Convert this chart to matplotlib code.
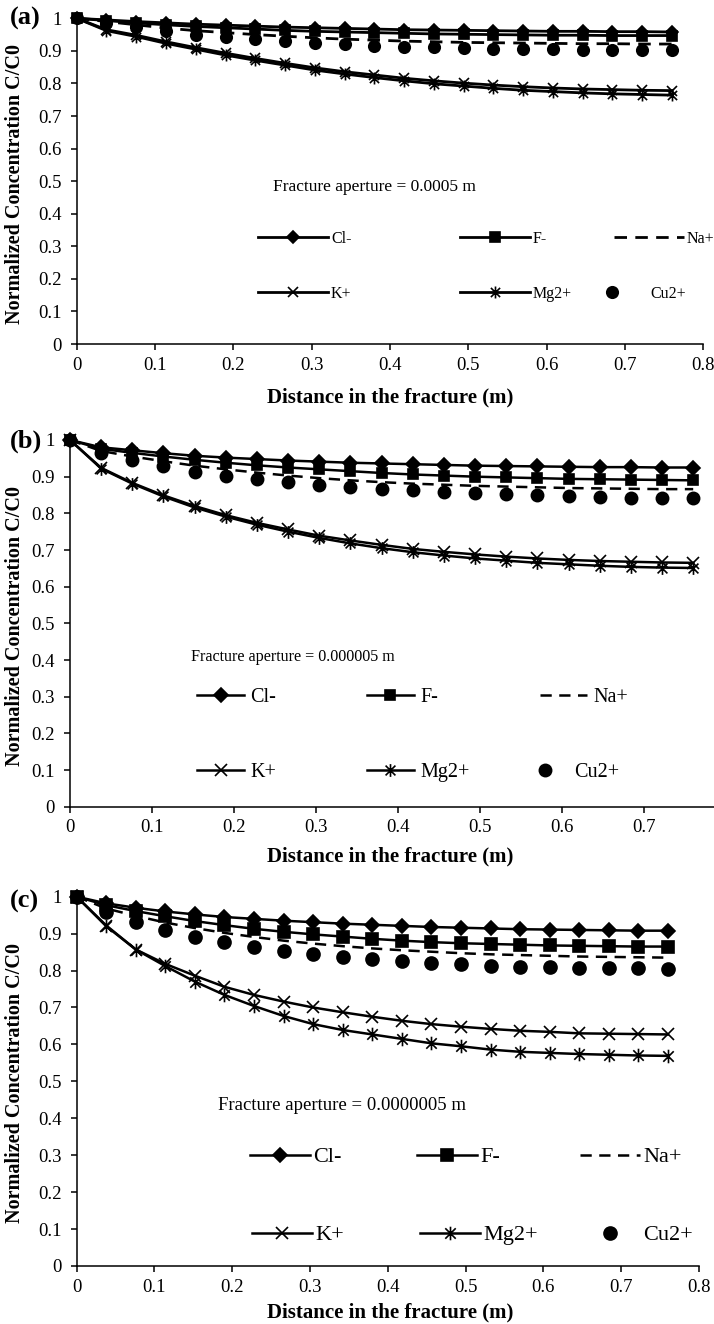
import matplotlib
matplotlib.use("Agg")
import matplotlib.pyplot as plt
from matplotlib.path import Path
from matplotlib.lines import Line2D
from matplotlib.legend import Legend
from matplotlib.ticker import MultipleLocator, FuncFormatter

plt.rcParams['font.family'] = ['Liberation Serif', 'DejaVu Serif']

W, H = 714, 1324

# distance along the fracture (m)
distance = [0, 0.038, 0.076, 0.114, 0.152, 0.19, 0.228, 0.266, 0.304, 0.342, 0.38,
            0.418, 0.456, 0.494, 0.532, 0.57, 0.608, 0.646, 0.684, 0.722, 0.76]

ions = ["Cl-", "F-", "Na+", "K+", "Mg2+", "Cu2+"]

# (a) aperture 0.0005 m
cl_a = [1, 0.995, 0.99, 0.986, 0.982, 0.979, 0.976, 0.973, 0.971, 0.969, 0.967,
        0.965, 0.964, 0.963, 0.962, 0.961, 0.96, 0.96, 0.959, 0.959, 0.958]
f_a = [1, 0.993, 0.986, 0.98, 0.975, 0.971, 0.967, 0.963, 0.96, 0.958, 0.956,
       0.954, 0.952, 0.951, 0.95, 0.949, 0.948, 0.948, 0.947, 0.947, 0.947]
na_a = [1, 0.99, 0.98, 0.97, 0.962, 0.956, 0.95, 0.945, 0.94, 0.936, 0.933,
        0.93, 0.928, 0.926, 0.925, 0.924, 0.923, 0.922, 0.922, 0.921, 0.921]
k_a = [1, 0.965, 0.948, 0.928, 0.91, 0.893, 0.877, 0.862, 0.848, 0.836, 0.826,
       0.816, 0.808, 0.801, 0.795, 0.79, 0.786, 0.783, 0.781, 0.779, 0.778]
mg_a = [1, 0.962, 0.944, 0.923, 0.905, 0.887, 0.871, 0.856, 0.841, 0.829, 0.818,
        0.808, 0.799, 0.792, 0.785, 0.779, 0.775, 0.771, 0.768, 0.766, 0.764]
cu_a = [1, 0.985, 0.972, 0.96, 0.95, 0.942, 0.935, 0.929, 0.924, 0.92, 0.916,
        0.913, 0.911, 0.909, 0.907, 0.906, 0.905, 0.904, 0.903, 0.903, 0.902]

# (b) aperture 0.000005 m
cl_b = [1, 0.98, 0.972, 0.964, 0.957, 0.952, 0.948, 0.944, 0.941, 0.938, 0.936,
        0.934, 0.932, 0.93, 0.929, 0.928, 0.927, 0.926, 0.926, 0.925, 0.925]
f_b = [1, 0.976, 0.965, 0.955, 0.946, 0.938, 0.931, 0.925, 0.92, 0.915, 0.91,
       0.906, 0.903, 0.9, 0.898, 0.896, 0.894, 0.893, 0.892, 0.891, 0.89]
na_b = [1, 0.97, 0.955, 0.942, 0.93, 0.92, 0.911, 0.903, 0.896, 0.89, 0.885,
        0.881, 0.878, 0.875, 0.873, 0.871, 0.869, 0.868, 0.867, 0.866, 0.866]
k_b = [1, 0.924, 0.883, 0.849, 0.82, 0.795, 0.774, 0.756, 0.739, 0.726, 0.714,
       0.703, 0.695, 0.688, 0.682, 0.677, 0.673, 0.67, 0.668, 0.666, 0.665]
mg_b = [1, 0.922, 0.881, 0.846, 0.816, 0.791, 0.769, 0.75, 0.733, 0.718, 0.705,
        0.694, 0.685, 0.677, 0.671, 0.665, 0.661, 0.657, 0.654, 0.652, 0.651]
cu_b = [1, 0.964, 0.945, 0.93, 0.914, 0.902, 0.893, 0.885, 0.877, 0.871, 0.867,
        0.863, 0.859, 0.855, 0.853, 0.85, 0.847, 0.845, 0.843, 0.842, 0.841]

# (c) aperture 0.0000005 m
cl_c = [1, 0.982, 0.97, 0.96, 0.952, 0.945, 0.94, 0.935, 0.931, 0.927, 0.924,
        0.921, 0.918, 0.916, 0.914, 0.912, 0.911, 0.91, 0.909, 0.908, 0.908]
f_c = [1, 0.977, 0.961, 0.947, 0.934, 0.923, 0.913, 0.905, 0.898, 0.892, 0.886,
       0.881, 0.877, 0.874, 0.872, 0.87, 0.868, 0.867, 0.866, 0.865, 0.865]
na_c = [1, 0.968, 0.948, 0.93, 0.915, 0.902, 0.891, 0.881, 0.873, 0.866, 0.86,
        0.855, 0.851, 0.847, 0.844, 0.842, 0.84, 0.838, 0.837, 0.836, 0.835]
k_c = [1, 0.922, 0.857, 0.818, 0.786, 0.756, 0.734, 0.716, 0.7, 0.687, 0.675,
       0.664, 0.655, 0.648, 0.642, 0.637, 0.634, 0.63, 0.629, 0.628, 0.627]
mg_c = [1, 0.92, 0.857, 0.812, 0.77, 0.734, 0.704, 0.677, 0.655, 0.639, 0.627,
        0.615, 0.603, 0.595, 0.586, 0.58, 0.577, 0.574, 0.572, 0.57, 0.569]
cu_c = [1, 0.959, 0.932, 0.91, 0.892, 0.876, 0.865, 0.854, 0.845, 0.838, 0.83,
        0.826, 0.821, 0.817, 0.813, 0.81, 0.809, 0.808, 0.807, 0.806, 0.805]

apertures = ["Fracture aperture = 0.0005 m", "Fracture aperture = 0.000005 m",
             "Fracture aperture = 0.0000005 m"]
letters = ["(a)", "(b)", "(c)"]

# excel style asterisk: an X with a vertical bar through it
asterisk = Path([(-1, -1), (1, 1), (-1, 1), (1, -1), (0, -1.3), (0, 1.3)],
                [Path.MOVETO, Path.LINETO] * 3)

STYLE = {
    "Cl-": dict(marker="D", ls="-", msc=0.85),
    "F-": dict(marker="s", ls="-", msc=0.95),
    "Na+": dict(marker="None", ls=(0, (4.5, 3.0)), msc=1.0),
    "K+": dict(marker="x", ls="-", msc=1.0),
    "Mg2+": dict(marker=asterisk, ls="-", msc=1.15),
    "Cu2+": dict(marker="o", ls="None", msc=1.1),
}


def fx(px):
    return px / W


def fy(py):
    return 1 - py / H


def draw_panel(fig, box, series, idx, opts):
    left, top, right, bottom = box
    ax = fig.add_axes([fx(left), fy(bottom), fx(right) - fx(left), fy(top) - fy(bottom)])
    lw, ms = opts["lw"], opts["ms"]

    for ion, vals in zip(ions, series):
        st = STYLE[ion]
        ax.plot(distance, vals, color="black", lw=lw, linestyle=st["ls"],
                marker=st["marker"], ms=ms * st["msc"], mew=1.2, mfc="black",
                mec="black", clip_on=False, zorder=3)

    ax.set_xlim(0, 0.8)
    ax.set_ylim(0, 1)
    ax.xaxis.set_major_locator(MultipleLocator(0.1))
    ax.yaxis.set_major_locator(MultipleLocator(0.1))
    ax.set_xticks([t for t in ax.get_xticks() if t <= opts["xtick_max"] + 1e-9])
    ax.set_xlim(0, 0.8)
    fmt = FuncFormatter(lambda v, p: f"{v:g}")
    ax.xaxis.set_major_formatter(fmt)
    ax.yaxis.set_major_formatter(fmt)
    for s in ["top", "right"]:
        ax.spines[s].set_visible(False)
    for s in ["left", "bottom"]:
        ax.spines[s].set_linewidth(1.1)
    ax.tick_params(axis="both", direction="out", length=4, width=1.1,
                   labelsize=13.5, colors="black")
    ax.tick_params(axis="y", pad=7)
    ax.tick_params(axis="x", pad=5)

    ax.set_ylabel("Normalized Concentration C/C0", fontsize=14.5, fontweight="bold")
    ax.set_xlabel("Distance in the fracture (m)", fontsize=15, fontweight="bold")
    ax.yaxis.set_label_coords(fx(25), fy(opts["ylabel_y"]), transform=fig.transFigure)
    ax.xaxis.set_label_coords(fx(390), fy(bottom + opts["xlabel_off"]),
                              transform=fig.transFigure)

    fig.text(fx(10), fy(opts["letter_y"]), letters[idx], fontsize=19,
             fontweight="bold", va="center", ha="left")

    tx, ty = opts["text_at"]
    fig.text(fx(tx), fy(ty), apertures[idx], fontsize=opts["text_fs"],
             va="center", ha="left")

    fs = opts["leg_fs"]
    fs_px = fs * 100 / 72
    for ion, (lx, ly) in zip(ions, opts["legend_at"]):
        st = STYLE[ion]
        h = Line2D([], [], color="black", lw=lw, linestyle=st["ls"],
                   marker=st["marker"], ms=ms * st["msc"], mew=1.2,
                   mfc="black", mec="black")
        leg = Legend(ax, [h], [ion], loc="center left",
                     bbox_to_anchor=(fx(lx), fy(ly)),
                     bbox_transform=fig.transFigure, frameon=False,
                     fontsize=fs, numpoints=1, borderpad=0, borderaxespad=0,
                     handlelength=opts["handle_px"] / fs_px,
                     handletextpad=opts["pad_px"] / fs_px)
        ax.add_artist(leg)
    return ax


fig = plt.figure(figsize=(W / 100, H / 100), dpi=100)

panels = [
    dict(box=(76.7, 18.3, 703.3, 344),
         series=[cl_a, f_a, na_a, k_a, mg_a, cu_a],
         opts=dict(lw=2.0, ms=7.5, letter_y=18, ylabel_y=184, xtick_max=0.8,
                   xlabel_off=43, text_at=(273, 187), text_fs=12.5,
                   leg_fs=11.5, handle_px=70, pad_px=3,
                   legend_at=[(258, 239), (460, 239), (614, 239),
                              (258, 294), (460, 294), (577, 294)])),
    dict(box=(70, 440, 726, 806.7),
         series=[cl_b, f_b, na_b, k_b, mg_b, cu_b],
         opts=dict(lw=1.8, ms=8, letter_y=441, ylabel_y=626, xtick_max=0.7,
                   xlabel_off=40, text_at=(191, 657), text_fs=11.6,
                   leg_fs=14.5, handle_px=47, pad_px=6,
                   legend_at=[(197, 697), (367, 697), (540, 697),
                              (197, 772), (367, 772), (521, 772)])),
    dict(box=(76.7, 896.7, 699, 1266),
         series=[cl_c, f_c, na_c, k_c, mg_c, cu_c],
         opts=dict(lw=1.8, ms=8.5, letter_y=901, ylabel_y=1083, xtick_max=0.8,
                   xlabel_off=36, text_at=(218, 1105), text_fs=13.5,
                   leg_fs=16, handle_px=60, pad_px=3,
                   legend_at=[(250, 1157), (417, 1157), (580, 1157),
                              (252, 1235), (420, 1235), (580, 1235)])),
]

for i, p in enumerate(panels):
    draw_panel(fig, p["box"], p["series"], i, p["opts"])

fig.savefig("out.png", dpi=100)
